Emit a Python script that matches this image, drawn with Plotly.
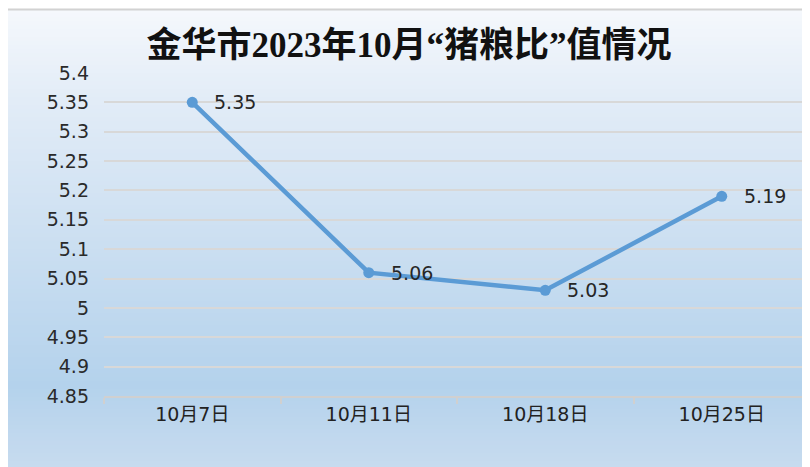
import plotly.graph_objects as go

# ---- data ----
categories = ["10月7日", "10月11日", "10月18日", "10月25日"]
ratio_values = [5.35, 5.06, 5.03, 5.19]
label_texts = ["5.35", "5.06", "5.03", "5.19"]
y_tick_values = [4.85, 4.9, 4.95, 5.0, 5.05, 5.1, 5.15, 5.2, 5.25, 5.3, 5.35, 5.4]
y_tick_labels = ["4.85", "4.9", "4.95", "5", "5.05", "5.1", "5.15", "5.2", "5.25", "5.3", "5.35", "5.4"]
title_text = "金华市2023年10月“猪粮比”值情况"

# ---- layout geometry (pixels) ----
OFF = 8  # page body margin
W, H = 810, 467
ML, MR, MT, MB = 96, 8, 65, 79
PW, PH = W - ML - MR, H - MT - MB
SX0, SY1 = ML + OFF, MT + OFF + PH  # screen x of plot left, screen y of plot bottom


def px_x(x):
    return (x - SX0) / PW


def px_y(y):
    return (SY1 - y) / PH


# gradient stops (screen pixel y, rgb)
stops = [(9, (245, 248, 252)), (100, (226, 236, 247)), (220, (207, 225, 242)),
         (385, (180, 210, 236)), (475, (201, 220, 239))]


def col_at(y):
    for (y0, c0), (y1, c1) in zip(stops[:-1], stops[1:]):
        if y0 <= y <= y1:
            t = (y - y0) / (y1 - y0)
            return "rgb(%d,%d,%d)" % tuple(round(a + (b - a) * t) for a, b in zip(c0, c1))
    return "rgb(%d,%d,%d)" % stops[-1][1]


shapes = []
band = 4
y = 9
while y < 480:
    shapes.append(dict(type="rect", xref="paper", yref="paper", layer="below",
                       x0=px_x(6), x1=px_x(830), y0=px_y(y + band + 0.5), y1=px_y(y),
                       fillcolor=col_at(y + band / 2), line=dict(width=0)))
    y += band
# frame
shapes.append(dict(type="line", xref="paper", yref="paper", layer="below",
                   x0=px_x(6), x1=px_x(830), y0=px_y(9.5), y1=px_y(9.5),
                   line=dict(color="#d2d2d2", width=2)))
shapes.append(dict(type="line", xref="paper", yref="paper", layer="below",
                   x0=px_x(6.5), x1=px_x(6.5), y0=px_y(9), y1=px_y(480),
                   line=dict(color="#d2d2d2", width=2)))

fig = go.Figure()
fig.add_trace(go.Scatter(
    x=categories, y=ratio_values, mode="lines+markers",
    line=dict(color="#5b9bd5", width=4.5),
    marker=dict(color="#5b9bd5", size=11),
    cliponaxis=False, hoverinfo="skip", showlegend=False,
))

annotations = [
    dict(x=c, y=v, xref="x", yref="y", text=t, showarrow=False,
         xanchor="left", yanchor="middle", xshift=20, yshift=0,
         font=dict(family="DejaVu Sans", size=19, color="#262626"))
    for c, v, t in zip(categories, ratio_values, label_texts)
]

fig.update_layout(
    width=W, height=H,
    margin=dict(l=ML, r=MR, t=MT, b=MB, pad=0),
    paper_bgcolor="white", plot_bgcolor="rgba(0,0,0,0)",
    shapes=shapes,
    annotations=annotations,
    title=dict(text="<b>" + title_text + "</b>", x=(409 - OFF) / W, xref="container", xanchor="center",
               y=1 - (45 - OFF) / H, yref="container", yanchor="middle",
               font=dict(family="Liberation Serif, Noto Sans CJK SC", size=35, color="#111111")),
    xaxis=dict(type="category", range=[-0.5, 3.5], showgrid=False,
               showline=True, linecolor="#d0d0d0", linewidth=2,
               ticks="outside", tickson="boundaries", ticklen=6, tickcolor="#d0d0d0", tickwidth=2,
               tickfont=dict(family="DejaVu Sans, Noto Sans CJK SC", size=19, color="#222222"),
               fixedrange=True),
    yaxis=dict(range=[4.85, 5.4], tickvals=y_tick_values, ticktext=y_tick_labels,
               showgrid=True, gridcolor="#d8d8d8", gridwidth=1.5, zeroline=False,
               showline=False, ticks="", ticklabelstandoff=14,
               tickfont=dict(family="DejaVu Sans", size=19, color="#2a2a2a"),
               fixedrange=True),
)

fig.write_html("out.html")
